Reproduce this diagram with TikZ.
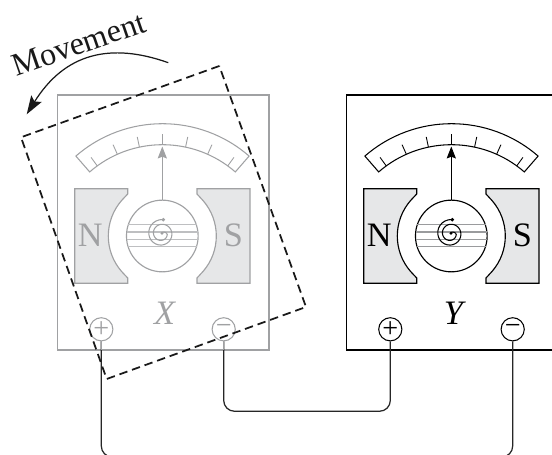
\documentclass[tikz,border=0pt]{standalone}
\usepackage{fontspec}
\setmainfont{Liberation Serif}
\usetikzlibrary{arrows.meta}
\definecolor{magnetfill}{HTML}{E6E7E8}
\definecolor{xgray}{HTML}{A0A1A3}
\definecolor{xlight}{HTML}{BEBFC1}
\definecolor{ygray}{HTML}{9A9B9D}
\tikzset{
  bigtext/.style={font=\fontsize{19.5}{22}\selectfont},
  terminal/.style={circle, draw, inner sep=0pt, minimum size=13.2pt, line width=0.6pt, font=\fontsize{16}{16}\selectfont},
  rotor/.style={circle, draw, inner sep=0pt, minimum size=40.8pt, line width=0.65pt},
  wire/.style={line width=0.7pt, rounded corners=6.2pt, black!85},
  swing/.style={dashed, line width=1pt, dash pattern=on 4.8pt off 2.8pt, black!90}
}
\begin{document}
\begin{tikzpicture}[x=0.02cm, y=-0.02cm]
\useasboundingbox (0,0) rectangle (552,455);
\foreach \m/\ox/\mcol/\lcol/\bigm in {x/0/xgray/xlight/X, y/289/black/ygray/Y} {
\begin{scope}[shift={(\ox,0)}]
\coordinate (\m scale) at (162.5,255.7);
\draw[\mcol, line width=0.65pt] (57.5,95) rectangle (269,350);
% scale
\draw[\mcol, line width=0.6pt] ([shift={(-131:132)}]\m scale) arc[start angle=-131, end angle=-49, radius=132]
  -- ([shift={(-49:111)}]\m scale) arc[start angle=-49, end angle=-131, radius=111] -- cycle;
\foreach \a in {-126,-114,...,-54}
  \draw[\mcol, line width=0.5pt] ([shift={(\a:111)}]\m scale) -- ([shift={(\a:121.5)}]\m scale);
% magnets
\node[rotor, draw=\mcol] (\m rotor) at (162.3,236) {};
\draw[\mcol, fill=magnetfill, line width=0.65pt] (74.7,188.7) -- (127.7,188.7) -- (127.7,194)
  -- ([shift={(221:54)}]\m rotor.center) arc[start angle=221, end angle=139, radius=54]
  -- (127.7,278) -- (127.7,283.3) -- (74.7,283.3) -- cycle;
\draw[\mcol, fill=magnetfill, line width=0.65pt] (250,188.7) -- (197,188.7) -- (197,194)
  -- ([shift={(-41:54)}]\m rotor.center) arc[start angle=-41, end angle=41, radius=54]
  -- (197,278) -- (197,283.3) -- (250,283.3) -- cycle;
\node[bigtext, text=\mcol, inner sep=0pt] (\m N) at (90.3,235) {N};
\node[bigtext, text=\mcol, inner sep=0pt] (\m S) at (233.3,235) {S};
\node[bigtext, text=\mcol, inner sep=0pt] (\m label) at (164.5,313.5) {\itshape\bigm};
% needle
\coordinate (\m tip) at (162.3,146.5);
\draw[\mcol, line width=0.6pt, -{Stealth[length=6.8pt, width=5.2pt, inset=1pt]}] (\m rotor.north) -- (\m tip);
% coil
\foreach \ly/\lw in {224.7/34.2, 232/35.8, 239.3/35.8, 246.7/34.4}
  \draw[\lcol, line width=0.6pt] (162.3-\lw,\ly) -- (162.3+\lw,\ly);
\draw[\mcol, line width=0.6pt, shift={(161.5,233.5)}] plot[smooth, domain=0:1.93, samples=50, variable=\t]
  ({(14-4.7*\t-25*max(\t-1.75,0))*cos(-85-360*\t)}, {(14-4.7*\t-25*max(\t-1.75,0))*sin(-85-360*\t)});
\fill[\mcol] (163.3,219.7) circle (1.9) (162,233.3) circle (1.7);
% terminals
\node[terminal, draw=\mcol, text=\mcol] (\m plus) at (101.3,329.3) {+};
\node[terminal, draw=\mcol, text=\mcol] (\m minus) at (223.7,329.3) {\ifx\m y\bfseries\fi −};
\end{scope}
}
% wires
\coordinate (shortrun) at (0,411.3);
\coordinate (longrun) at (0,457);
\coordinate (xfoot) at (0,350);
\draw[wire] (xminus.south) -- (xminus.south |- shortrun) -- (yplus.south |- shortrun) -- (yplus.south);
\draw[wire] (xplus.south) -- (xplus.south |- longrun) -- (yminus.south |- longrun) -- (yminus.south);
\draw[xgray, line width=0.8pt] (xminus.south) -- (xminus.south |- xfoot);
\draw[xgray, line width=0.8pt] (xplus.south) -- (xplus.south |- xfoot);
% moved frame
\draw[swing] (219.3,66) -- (21,137.3) -- (106.7,379) -- (306,307) -- cycle;
% movement
\node[font=\fontsize{18.3}{20}\selectfont, rotate=19, inner sep=0pt, black!90] (movement) at (78.5,44) {Movement};
\draw[line width=0.7pt, black!90, -{Stealth[length=10.5pt, width=7pt, inset=2pt]}] (168.3,62.7) .. controls (110.2,42.1) and (64.8,53.3) .. (26.7,114.3);
\end{tikzpicture}
\end{document}
